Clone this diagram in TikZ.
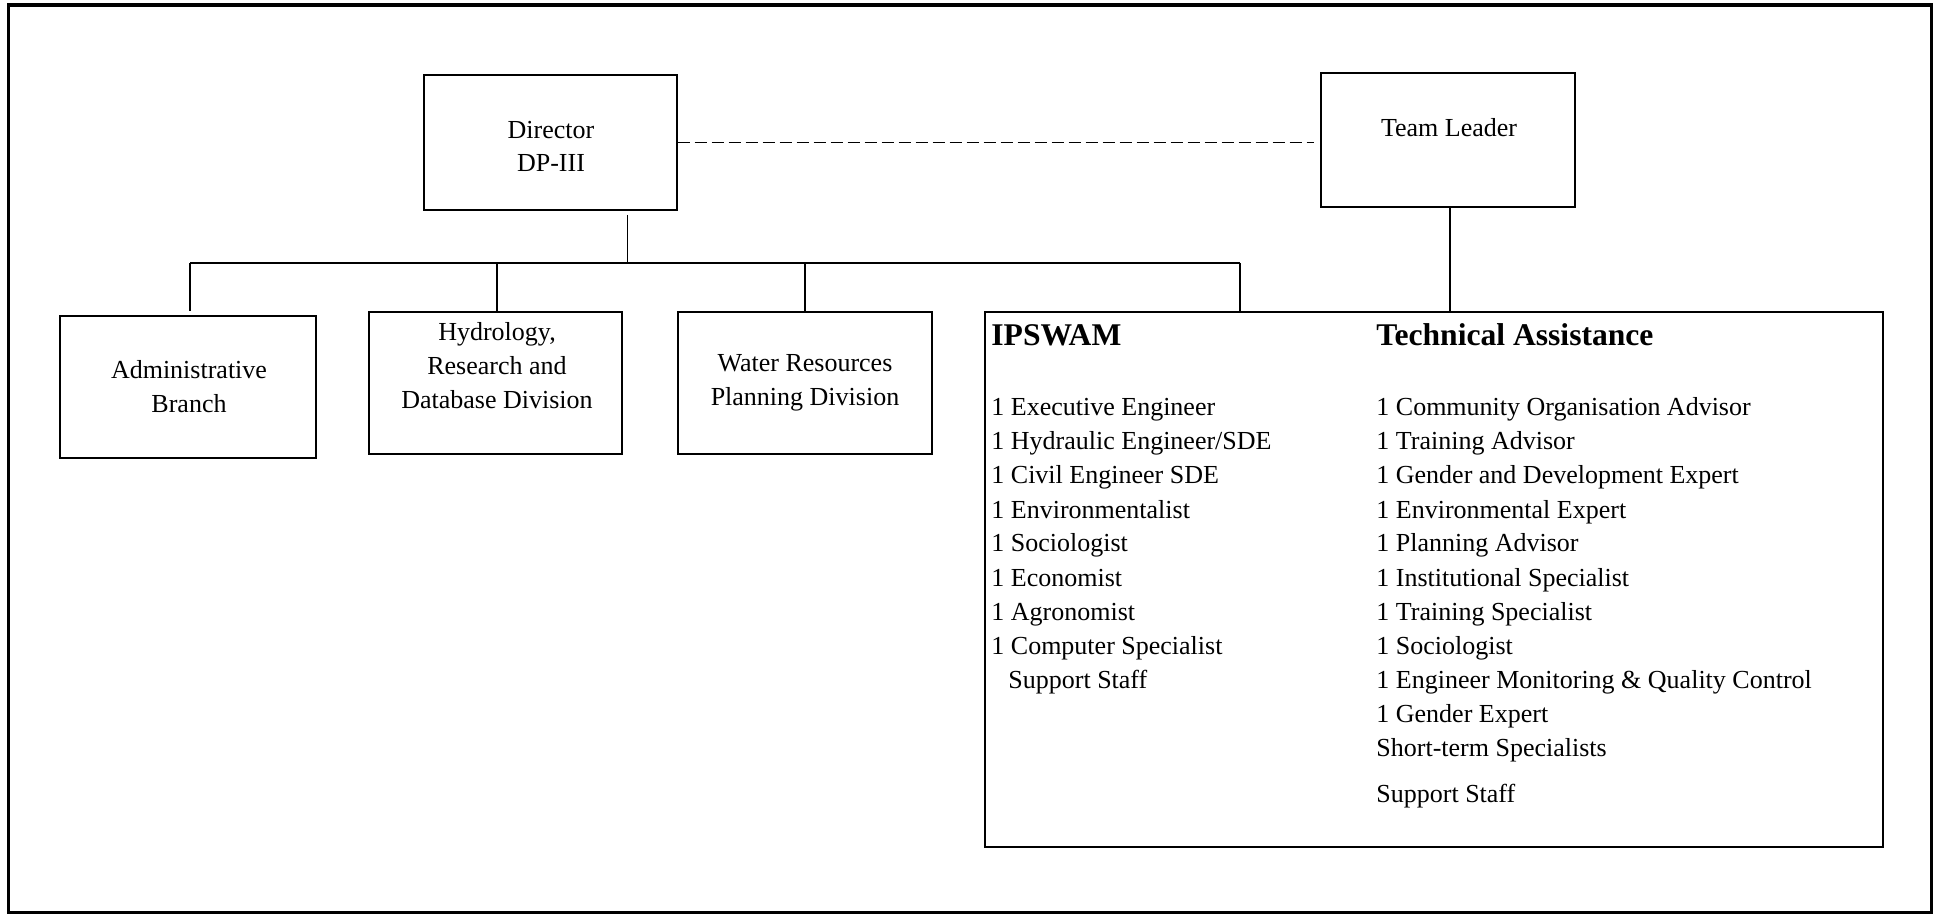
\documentclass[tikz,border=0pt]{standalone}
\usepackage{fontspec}
\setmainfont{Liberation Serif}
\begin{document}
\begin{tikzpicture}[x=0.5pt,y=-0.5pt,
  box/.style={draw, line width=1pt, inner sep=0pt},
  bigbox/.style={draw, line width=1.3pt, inner sep=0pt},
  lbl/.style={font=\fontsize{13}{17}\selectfont, align=center, inner sep=0pt},
  item/.style={font=\fontsize{13}{15}\selectfont, anchor=base west, inner sep=0pt},
  head/.style={font=\fontsize{15.8}{18}\selectfont\bfseries, anchor=base west, inner sep=0pt},
  conn/.style={line width=0.85pt},
  frame/.style={line width=1.8pt}]
\useasboundingbox (0,0) rectangle (1933,914);
\draw[frame] (8.5,5) rectangle (1931.5,912.5);

% boxes
\node[box, minimum width=126.5pt, minimum height=67.5pt] (dir) at (550,142.5) {};
\node[box, minimum width=127.25pt, minimum height=67pt] (tl) at (1447.75,140) {};
\node[box, minimum width=127.75pt, minimum height=71pt] (adm) at (187.75,387) {};
\node[box, minimum width=126.5pt, minimum height=71pt] (hyd) at (495.5,383) {};
\node[box, minimum width=127pt, minimum height=71pt] (wat) at (805,383) {};
\node[bigbox, minimum width=449pt, minimum height=267.5pt] (big) at (1434,579.5) {};

% box texts
\node[lbl, font=\fontsize{13}{16.5}\selectfont] (dirt) at (551,146.5) {Director\\DP-III};
\node[lbl] (tlt) at (1449,128) {Team Leader};
\node[lbl] (admt) at (189,386.5) {Administrative\\Branch};
\node[lbl] (hydt) at (497,366) {Hydrology,\\Research and\\Database Division};
\node[lbl] (watt) at (805,382.5) {Water Resources\\Planning Division};

% connectors
\coordinate (dv) at (627.5,263);
\coordinate (bl) at (190,263);
\coordinate (bh) at (497,263);
\coordinate (bw) at (805,263);
\coordinate (br) at (1240,263);
\coordinate (tv) at (1450,263);
\draw[conn, shorten <=2pt] (dir.south -| dv) -- (dv);
\draw[conn] (bl) -- (br);
\draw[conn, shorten >=2pt] (bl) -- (bl |- adm.north);
\draw[conn] (bh) -- (bh |- hyd.north);
\draw[conn] (bw) -- (bw |- wat.north);
\draw[conn] (br) -- (br |- big.north);
\draw[conn] (tl.south -| tv) -- (tv |- big.north);
\draw[conn, dash pattern=on 6pt off 2.5pt, shorten >=3pt] (dir.east) -- (dir.east -| tl.west);

% IPSWAM column
\node[head] (ip) at (991,346) {IPSWAM};
\node[item] (i1) at (991,416) {1 Executive Engineer};
\node[item] (i2) at (991,450) {1 Hydraulic Engineer/SDE};
\node[item] (i3) at (991,484) {1 Civil Engineer SDE};
\node[item] (i4) at (991,518) {1 Environmentalist};
\node[item] (i5) at (991,552) {1 Sociologist};
\node[item] (i6) at (991,586) {1 Economist};
\node[item] (i7) at (991,620) {1 Agronomist};
\node[item] (i8) at (991,654) {1 Computer Specialist};
\node[item] (i9) at (1008,688) {Support Staff};

% Technical Assistance column
\node[head] (ta) at (1376,346) {Technical Assistance};
\node[item] (t1) at (1376,416) {1 Community Organisation Advisor};
\node[item] (t2) at (1376,450) {1 Training Advisor};
\node[item] (t3) at (1376,484) {1 Gender and Development Expert};
\node[item] (t4) at (1376,518) {1 Environmental Expert};
\node[item] (t5) at (1376,552) {1 Planning Advisor};
\node[item] (t6) at (1376,586) {1 Institutional Specialist};
\node[item] (t7) at (1376,620) {1 Training Specialist};
\node[item] (t8) at (1376,654) {1 Sociologist};
\node[item] (t9) at (1376,688) {1 Engineer Monitoring \& Quality Control};
\node[item] (t10) at (1376,722) {1 Gender Expert};
\node[item] (t11) at (1376,756) {Short-term Specialists};
\node[item] (t12) at (1376,802) {Support Staff};
\end{tikzpicture}
\end{document}
